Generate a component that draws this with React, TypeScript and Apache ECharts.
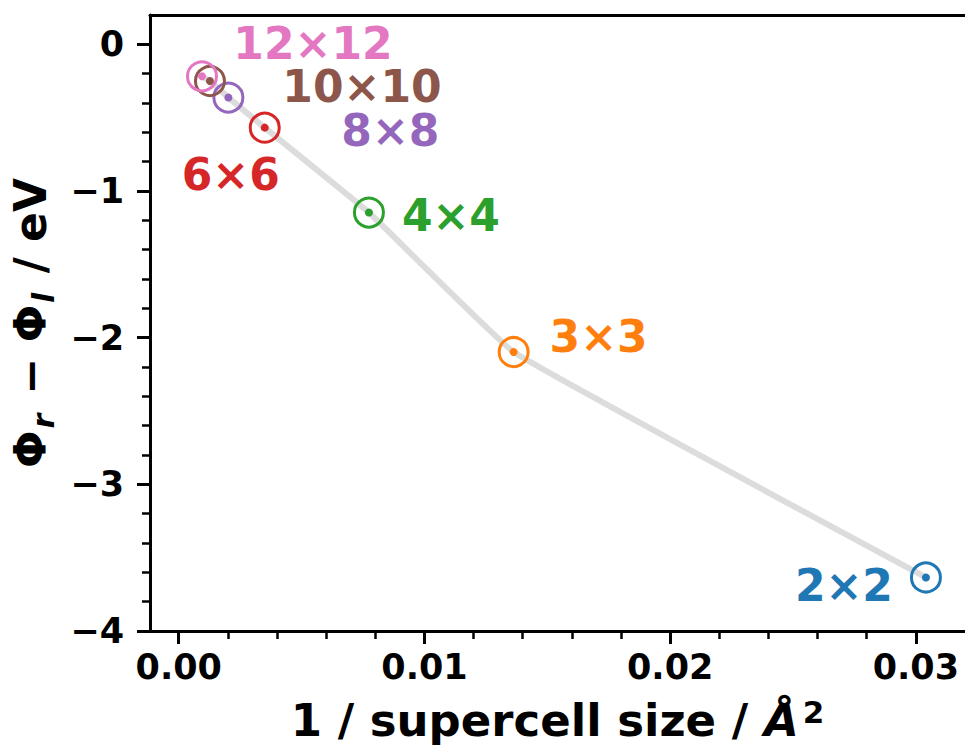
import React, { useEffect, useRef } from 'react';
import * as echarts from 'echarts';

// ---- data ----
const sizes = ['2×2', '3×3', '4×4', '6×6', '8×8', '10×10', '12×12'];
const invSize = [0.03041, 0.01363, 0.00774, 0.0035, 0.00202, 0.00127, 0.000946];
const deltaPhi = [-3.635, -2.098, -1.147, -0.568, -0.363, -0.25, -0.218];
const xTicks = [0, 0.01, 0.02, 0.03];
const xMinorTicks = [0.002, 0.004, 0.006, 0.008, 0.012, 0.014, 0.016, 0.018, 0.022, 0.024, 0.026, 0.028];
const yTicks = [-4, -3, -2, -1, 0];
const yMinorTicks = [-3.8, -3.6, -3.4, -3.2, -2.8, -2.6, -2.4, -2.2, -1.8, -1.6, -1.4, -1.2, -0.8, -0.6, -0.4, -0.2];

// ---- styles ----
const colors = ['#1f77b4', '#ff7f0e', '#2ca02c', '#d62728', '#9467bd', '#8c564b', '#e377c2'];
const labelOffsets = [[-82, 8], [85, -16], [82, 3], [-34, 47], [162, 33], [152, 5], [111, -33]];
const FONT = 'DejaVu Sans';
const X_MIN = -0.00117;
const X_MAX = 0.032;
const Y_MIN = -4;
const Y_MAX = 0.2;

const fmtY = (v: number) => (v < 0 ? '\u2212' + Math.abs(v) : String(v));

export default function App() {
  const ref = useRef<HTMLDivElement>(null);
  useEffect(() => {
    if (!ref.current) return;
    const chart = echarts.init(ref.current, null, { renderer: 'svg' });

    const linePts = invSize
      .map((x, i) => [x, deltaPhi[i]])
      .sort((a, b) => a[0] - b[0]);

    const ringData = invSize.map((x, i) => ({
      value: [x, deltaPhi[i]],
      itemStyle: { borderColor: colors[i], color: 'rgba(0,0,0,0)', opacity: 1 },
      label: {
        show: true,
        position: 'inside',
        formatter: sizes[i],
        color: colors[i],
        opacity: 1,
        offset: labelOffsets[i],
        fontSize: 44,
        lineHeight: 38,
        fontWeight: 'bold',
        fontFamily: FONT,
      },
    }));
    const dotData = invSize.map((x, i) => ({
      value: [x, deltaPhi[i]],
      itemStyle: { color: colors[i], opacity: 1 },
    }));

    const lineTick = { color: '#000', width: 3 };
    const txt = { color: '#000', fontWeight: 'bold', fontFamily: FONT };

    chart.setOption({
      animation: false,
      backgroundColor: '#fff',
      grid: { left: 147.5, right: 0, top: 15, bottom: 123, containLabel: false },
      xAxis: [
        {
          type: 'value',
          min: X_MIN,
          max: X_MAX,
          position: 'bottom',
          axisLine: { show: true, onZero: false, lineStyle: lineTick },
          axisTick: { show: true, length: 13, lineStyle: lineTick, customValues: xTicks },
          axisLabel: {
            show: true,
            customValues: xTicks,
            formatter: (v: number) => v.toFixed(2),
            fontSize: 35,
            margin: 18,
            ...txt,
          },
          splitLine: { show: false },
          name: '1 / supercell size / {it|Å}{sup|2}',
          nameLocation: 'middle',
          nameGap: 65,
          nameTextStyle: {
            fontSize: 45,
            ...txt,
            rich: {
              it: { fontSize: 45, fontStyle: 'italic', ...txt, fontFamily: FONT },
              sup: { fontSize: 31, verticalAlign: 'top', ...txt, fontFamily: FONT, padding: [0, 0, 18, 4] },
            },
          },
        },
        {
          type: 'value',
          min: X_MIN,
          max: X_MAX,
          position: 'bottom',
          axisLine: { show: false, onZero: false },
          axisTick: { show: true, length: 8, lineStyle: { color: '#000', width: 2.5 }, customValues: xMinorTicks },
          axisLabel: { show: false },
          splitLine: { show: false },
        },
        {
          type: 'value',
          min: X_MIN,
          max: X_MAX,
          position: 'top',
          axisLine: { show: true, onZero: false, lineStyle: lineTick },
          axisTick: { show: false },
          axisLabel: { show: false },
          splitLine: { show: false },
        },
      ],
      yAxis: [
        {
          type: 'value',
          min: Y_MIN,
          max: Y_MAX,
          position: 'left',
          axisLine: { show: true, onZero: false, lineStyle: lineTick },
          axisTick: { show: true, length: 13, lineStyle: lineTick, customValues: yTicks },
          axisLabel: {
            show: true,
            customValues: yTicks,
            formatter: fmtY,
            fontSize: 35,
            margin: 26,
            ...txt,
          },
          splitLine: { show: false },
          name: '{a|Φ}{s|r}{a| − Φ}{s|l}{a| / eV}',
          nameLocation: 'middle',
          nameGap: 92,
          nameTextStyle: {
            fontSize: 44,
            ...txt,
            rich: {
              a: { fontSize: 44, ...txt, lineHeight: 56 },
              s: { fontSize: 30, fontStyle: 'italic', ...txt, verticalAlign: 'bottom', padding: [12, 4, 0, 2] },
            },
          },
        },
        {
          type: 'value',
          min: Y_MIN,
          max: Y_MAX,
          position: 'left',
          axisLine: { show: false, onZero: false },
          axisTick: { show: true, length: 8, lineStyle: { color: '#000', width: 2.5 }, customValues: yMinorTicks },
          axisLabel: { show: false },
          splitLine: { show: false },
        },
      ],
      series: [
        {
          type: 'line',
          xAxisIndex: 0,
          yAxisIndex: 0,
          data: linePts,
          symbol: 'none',
          smooth: 0.08,
          lineStyle: { color: '#dcdcdc', width: 6 },
          z: 1,
          silent: true,
        },
        {
          type: 'scatter',
          xAxisIndex: 0,
          yAxisIndex: 0,
          data: ringData,
          symbol: 'circle',
          symbolSize: 29,
          itemStyle: { borderWidth: 3, color: 'rgba(0,0,0,0)', opacity: 1 },
          z: 3,
        },
        {
          type: 'scatter',
          xAxisIndex: 0,
          yAxisIndex: 0,
          data: dotData,
          symbol: 'circle',
          symbolSize: 8,
          itemStyle: { opacity: 1 },
          z: 4,
        },
      ],
    });
    return () => chart.dispose();
  }, []);
  return <div ref={ref} style={{ position: 'fixed', left: 0, top: 0, width: 965, height: 754 }} />;
}
